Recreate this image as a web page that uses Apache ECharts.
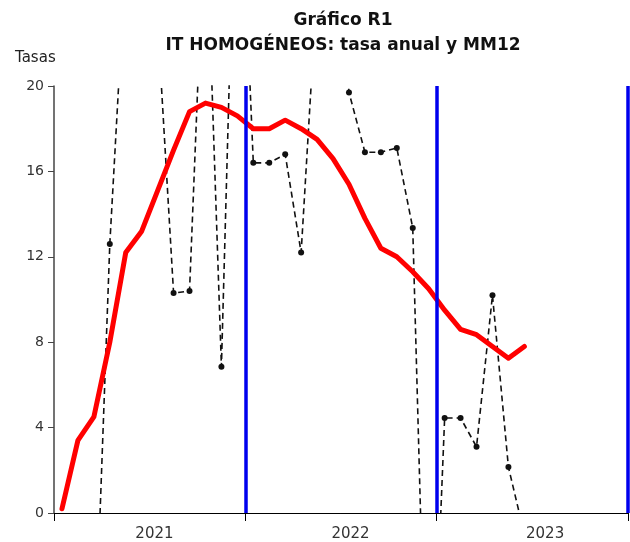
<!DOCTYPE html>
<html>
<head>
<meta charset="utf-8">
<script src="https://cdn.jsdelivr.net/npm/echarts@6/dist/echarts.min.js"></script>
<style>
  html, body { margin: 0; padding: 0; background: #fff; }
  #chart { width: 630px; height: 542px; }
</style>
</head>
<body>
<div id="chart"></div>
<script>
// meses desde enero 2021 (0 = ene-21)
const years = ['2021', '2022', '2023'];
const yearLabelPos = [6.3, 18.6, 30.8];
const yearBreaks = [12, 24, 36];

// MM12 (línea roja)
const mm12 = [0.2, 3.4, 4.5, 8.0, 12.2, 13.2, 15.1, 17.0, 18.8, 19.2, 19.0, 18.6,
  18.0, 18.0, 18.4, 18.0, 17.5, 16.6, 15.4, 13.8, 12.4, 12.0, 11.3, 10.5,
  9.5, 8.6, 8.35, 7.8, 7.25, 7.8];

// tasa anual (discontinua con puntos), fuera de escala se recorta
const tasa = [null, null, -8, 12.6, 26, 30, 23, 10.3, 10.4, 29, 6.85, 34,
  16.4, 16.4, 16.8, 12.2, 24.7, 30, 19.7, 16.9, 16.9, 17.1, 13.35, -14,
  4.45, 4.45, 3.1, 10.2, 2.15, -1.0];

const toXY = arr => arr.map((v, i) => [i + 0.5, v]);

const chart = echarts.init(document.getElementById('chart'));
chart.setOption({
  animation: false,
  textStyle: { fontFamily: 'DejaVu Sans' },
  title: [
    {
      text: 'Gráfico R1\nIT HOMOGÉNEOS: tasa anual y MM12',
      left: 338,
      top: 3,
      textAlign: 'center',
      textStyle: { fontSize: 17, fontWeight: 'bold', color: '#111', lineHeight: 25, fontFamily: 'DejaVu Sans' }
    },
    {
      text: 'Tasas',
      left: 10,
      top: 46,
      textStyle: { fontSize: 15, fontWeight: 'normal', color: '#222', fontFamily: 'DejaVu Sans' }
    }
  ],
  grid: { left: 54, right: 2, top: 86, bottom: 29 },
  xAxis: {
    type: 'value',
    min: 0,
    max: 36,
    interval: 12,
    splitLine: { show: false },
    axisLine: { lineStyle: { color: '#000', width: 1 } },
    axisTick: { show: true, length: 8, lineStyle: { color: '#000' }, customValues: yearBreaks.concat([0]) },
    axisLabel: {
      customValues: yearLabelPos,
      formatter: v => years[yearLabelPos.indexOf(v)] || '',
      color: '#333',
      fontSize: 15,
      margin: 14
    }
  },
  yAxis: {
    type: 'value',
    min: 0,
    max: 20,
    interval: 4,
    splitLine: { show: false },
    axisLine: { show: true, lineStyle: { color: '#444', width: 1.5 } },
    axisTick: { show: true, length: 6, lineStyle: { color: '#444' } },
    axisLabel: { color: '#333', fontSize: 14, margin: 10 }
  },
  series: [
    {
      name: 'tasa anual',
      type: 'line',
      data: toXY(tasa),
      clip: true,
      symbol: 'circle',
      symbolSize: 6,
      itemStyle: { color: '#111' },
      lineStyle: { color: '#111', width: 1.6, type: [6, 4] },
      z: 2
    },
    {
      name: 'MM12',
      type: 'line',
      data: toXY(mm12),
      clip: true,
      showSymbol: false,
      lineStyle: { color: '#ff0000', width: 5, join: 'round', cap: 'round' },
      z: 3
    },
    {
      name: 'años',
      type: 'line',
      data: [],
      z: 4,
      markLine: {
        silent: true,
        symbol: ['none', 'none'],
        label: { show: false },
        lineStyle: { color: '#0000ee', width: 3.5, type: 'solid' },
        data: yearBreaks.map(x => ({ xAxis: x }))
      }
    }
  ]
});
</script>
</body>
</html>
